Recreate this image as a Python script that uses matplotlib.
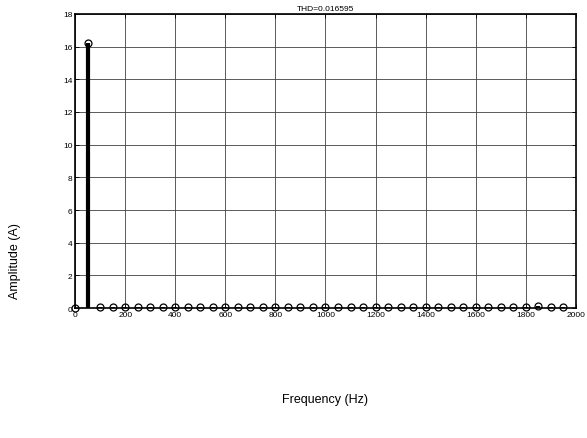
import matplotlib.pyplot as plt
import numpy as np

plt.rcParams['font.family'] = ['Liberation Sans', 'DejaVu Sans']

# harmonic spectrum, 0..1950 Hz in 50 Hz steps
freq = np.arange(0, 2000, 50)
amp = [0.0, 16.2, 0.05, 0.07, 0.05, 0.05, 0.04, 0.04, 0.05, 0.05,
       0.08, 0.08, 0.07, 0.05, 0.04, 0.04, 0.05, 0.05, 0.05, 0.08,
       0.05, 0.05, 0.05, 0.06, 0.07, 0.05, 0.05, 0.04, 0.06, 0.05,
       0.05, 0.05, 0.06, 0.05, 0.05, 0.04, 0.06, 0.12, 0.06, 0.05]
thd = 0.016595

fig = plt.figure(figsize=(5.87, 4.39), dpi=100)
ax = fig.add_axes([0.128, 0.296, 0.853, 0.670])

ax.vlines(freq, 0, amp, colors='black', linewidth=3)
ax.plot(freq, amp, 'o', markerfacecolor='none', markeredgecolor='black',
        markersize=5, markeredgewidth=0.9, clip_on=False, zorder=3)

ax.set_xlim(0, 2000)
ax.set_ylim(0, 18)
ax.set_xticks(np.arange(0, 2001, 200))
ax.set_yticks(np.arange(0, 19, 2))
ax.tick_params(direction='in', labelsize=6, top=True, right=True,
               length=3, width=0.6, pad=2)
ax.grid(True, color='#404040', linewidth=0.6)
ax.set_axisbelow(True)
for s in ax.spines.values():
    s.set_linewidth(1.2)

ax.set_title('THD=%.6g' % thd, fontsize=6, pad=3)
fig.text(0.5545, 0.089, 'Frequency (Hz)', ha='center', va='center', fontsize=9)
fig.text(0.026, 0.405, 'Amplitude (A)', ha='center', va='center',
         rotation=90, fontsize=9)

plt.savefig('out.png', dpi=100)
plt.close()
